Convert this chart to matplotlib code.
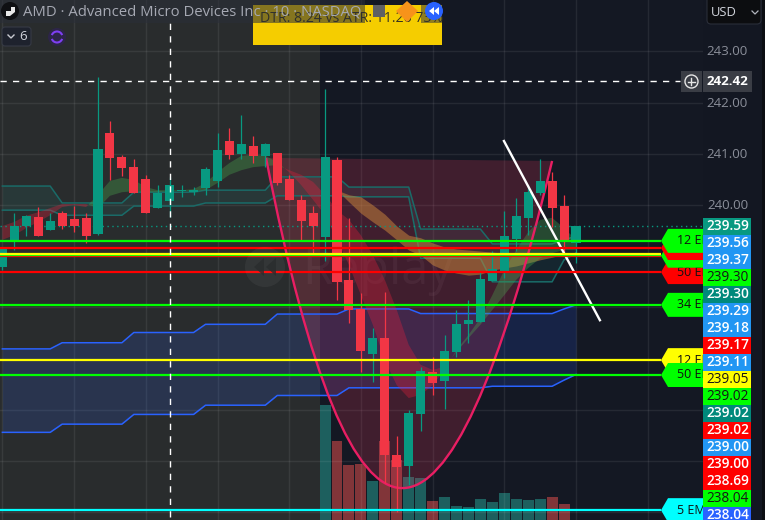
import matplotlib
matplotlib.use("Agg")
import matplotlib.pyplot as plt
from matplotlib.patches import Rectangle, PathPatch, Polygon, Circle, FancyBboxPatch, Arc
from matplotlib.path import Path

FONT = "Open Sans"
plt.rcParams["font.family"] = [FONT, "DejaVu Sans"]

opens = [238.79,239.28,239.59,239.77,239.51,239.84,239.73,239.75,239.43,241.41,240.94,240.74,240.51,239.94,240.08,240.27,240.25,240.33,240.47,
         241.25,241.00,241.15,240.96,241.02,240.51,240.10,239.84,239.38,240.88,238.54,237.97,237.09,237.40,235.12,234.90,235.92,236.74,236.56,
         237.13,237.68,237.71,238.52,238.71,239.34,239.75,240.23,240.47,239.98,239.26]
highs = [239.16,239.84,239.80,239.96,239.84,239.88,239.98,239.84,242.50,241.64,240.98,240.90,240.59,240.39,240.55,240.39,240.35,240.74,241.41,
         241.50,241.76,241.35,241.21,241.02,240.59,240.20,239.98,242.27,240.94,239.75,238.28,237.60,238.30,235.49,236.00,236.84,237.03,237.46,
         237.95,238.14,238.71,239.10,239.88,240.14,240.39,240.90,240.64,240.20,239.59]
lows = [238.73,239.12,239.39,239.39,239.51,239.53,239.47,239.26,239.41,240.49,240.57,240.23,239.84,239.94,239.77,240.16,240.20,240.20,240.35,
        240.90,240.90,240.82,240.74,240.39,240.10,239.30,239.06,238.91,238.14,237.70,236.74,236.54,234.57,234.00,234.53,235.59,236.29,236.02,
        237.03,237.30,237.71,238.52,238.57,239.10,239.41,240.20,239.57,239.02,238.87]
closes = [239.16,239.59,239.79,239.39,239.69,239.59,239.59,239.39,241.09,240.92,240.72,240.23,239.84,240.23,240.39,240.29,240.29,240.70,241.07,
          240.98,241.19,240.96,241.19,240.43,240.10,239.69,239.59,240.94,238.50,237.95,237.15,237.40,235.12,234.88,235.94,236.76,236.52,237.15,
          237.68,237.75,238.55,238.75,239.39,239.79,240.25,240.47,239.94,239.30,239.59]

vol_start = 27
volumes = [1150,790,550,560,390,790,600,430,420,190,230,140,130,210,180,270,210,200,210,230,160]

blue_upper = [237.19]*5+[237.31]*6+[237.51]*6+[237.67]*6+[237.87]*6+[237.97]*6+[237.88]*12+[237.97,238.05]
blue_lower = [235.56]*5+[235.72]*6+[235.91]*6+[236.09]*6+[236.28]*6+[236.43]*12+[236.46]*6+[236.58,236.69]
teal_upper = [240.37]*5+[240.04]*6+[240.25]*6+[240.29]*6+[240.55]*6+[240.35]*6+[239.53]*6+[239.24]*6+[239.32,239.39]
teal_lower = [239.90]*5+[239.80]*6+[239.98]*6+[240.04]*6+[240.18]*6+[240.16]*6+[238.96]*6+[238.50]*6+[238.93,239.06]

ema_fast = [239.32,239.41,239.55,239.67,239.80,239.96,240.00,239.96,240.20,240.47,240.53,240.49,240.35,240.29,240.29,240.29,240.31,240.43,240.64,
            240.82,240.96,240.98,240.96,240.84,240.64,240.39,240.10,239.80,239.32,238.83,238.24,237.66,236.97,236.48,236.23,236.29,236.48,236.78,
            237.17,237.46,237.79,238.24,238.73,239.12,239.47,239.71,239.75,239.55,239.32]
ema_slow = [239.59,239.67,239.79,239.86,239.94,240.02,240.02,240.02,239.94,240.18,240.25,240.27,240.25,240.25,240.27,240.27,240.27,240.29,240.43,
            240.59,240.68,240.74,240.76,240.78,240.68,240.59,240.45,240.20,239.90,239.71,239.41,239.02,238.54,237.95,237.27,236.88,236.78,236.84,
            237.13,237.40,237.66,237.95,238.24,238.54,238.77,238.96,239.06,239.12,239.12]
band_start = 28
band_upper = [240.29,240.20,240.16,240.00,239.82,239.59,239.41,239.36,239.26,239.18,239.14,239.12,239.10,239.08,239.06,239.04,239.04,239.02,239.02,239.04,239.06]
band_lower = [240.29,240.06,239.84,239.67,239.51,239.32,239.12,239.02,238.83,238.73,238.67,238.63,238.65,238.73,238.77,238.81,238.87,238.93,238.98,239.04,239.08]

level_prices = [238.69,239.00,239.02,239.04,239.16,239.30,238.05,236.97,236.68,234.04]
level_colors = ["#ff0000","#ff0000","#00ff00","#ffff00","#ff0000","#00ff00","#00ff00","#ffff00","#00ff00","#00ffff"]
tag_prices = [238.69,239.01,239.16,239.30,238.05,236.97,236.68,234.04]
tag_labels = ["50 EMA","9 EMA","","12 EMA","34 EMA","12 EMA","50 EMA","5 EMA"]
tag_colors = ["#ff0000","#00ff00","#ff0000","#00ff00","#00ff00","#ffff00","#00ff00","#00ffff"]

axis_ticks = [243.00,242.00,241.00,240.00]
scale_labels = ["239.59","239.56","239.37","239.30","239.30","239.29","239.18","239.17","239.11",
                "239.05","239.02","239.02","239.02","239.00","239.00","238.69","238.04","238.04"]
scale_colors = ["#089981","#2196f3","#2196f3","#00ff00","#00897b","#2196f3","#2196f3","#ff0000","#2196f3",
                "#ffff00","#00ff00","#00897b","#ff0000","#2196f3","#ff0000","#ff0000","#00ff00","#2962ff"]
scale_text = ["w","w","w","k","w","w","w","w","w","k","k","w","w","w","w","w","k","w"]

cross_price = 242.42
cross_bar = 14
last_price = 239.59
cup_x = [22.06,32.85,46.0]
cup_y = [240.92,228.05,240.86]
trend_x = [41.97,50.0]
trend_y = [241.25,237.75]

W, H = 765, 520
AX_W = 703
fig = plt.figure(figsize=(W/100, H/100), dpi=100, facecolor="#131722")
rect = [0, 0, AX_W/W, 1]
ax_vol = fig.add_axes(rect, zorder=0)
ax = fig.add_axes(rect, zorder=1)
top = fig.add_axes([0, 0, 1, 1], zorder=2)

XL = (-2.4/11.95, (AX_W-2.4)/11.95)
YL = (233.848, 244.004)
def px(x): return (x-2.4)/11.95
def py(y): return 240+(205-y)/51.2

ax_vol.set_xlim(XL); ax_vol.set_ylim(0, 5200); ax_vol.axis("off")
ax_vol.patch.set_visible(False)
ax_vol.add_patch(Rectangle((XL[0], 0), px(320)-XL[0], 5200, color="#292c2d", lw=0, zorder=0))
ax_vol.add_patch(Rectangle((px(320), 0), XL[1]-px(320), 5200, color="#141823", lw=0, zorder=0))
vx = list(range(vol_start, vol_start+len(volumes)))
vc = ["#26a69a" if closes[i] >= opens[i] else "#ef5350" for i in vx]
ax_vol.bar(vx, volumes, width=0.92, color=vc, alpha=0.5, lw=0, zorder=2)

ax.set_xlim(XL); ax.set_ylim(YL)
ax.patch.set_visible(False)
for s in ax.spines.values():
    s.set_visible(False)
ax.set_xticks(range(0, 60, 6)); ax.set_yticks(range(234, 244))
ax.tick_params(length=0, labelbottom=False, labelleft=False)
ax.grid(True, color="#ffffff", alpha=0.075, lw=1)
ax.set_axisbelow(True)

bars = list(range(len(opens)))
ax.fill_between(bars, blue_lower, blue_upper, color="#2962ff", alpha=0.16, lw=0, zorder=1)
ax.plot(bars, blue_upper, color="#2962ff", lw=1.1, zorder=2)
ax.plot(bars, blue_lower, color="#2962ff", lw=1.1, zorder=2)
ax.fill_between(bars, teal_lower, teal_upper, color="#26a69a", alpha=0.10, lw=0, zorder=1)
ax.plot(bars, teal_upper, color="#1a6b68", lw=1.1, zorder=2)
ax.plot(bars, teal_lower, color="#1a6b68", lw=1.1, zorder=2)

# cup drawing
verts = [(cup_x[0], cup_y[0]), (cup_x[1], cup_y[1]), (cup_x[2], cup_y[2])]
ax.add_patch(PathPatch(Path(verts+[verts[0]], [Path.MOVETO, Path.CURVE3, Path.CURVE3, Path.CLOSEPOLY]),
                       fc="#f23a5f", alpha=0.2, lw=0, zorder=1.5))
ax.add_patch(PathPatch(Path(verts, [Path.MOVETO, Path.CURVE3, Path.CURVE3]),
                       fc="none", ec="#e91e63", lw=1.7, zorder=3))

# EMA ribbons
bx = bars[band_start:]
ax.fill_between(bx, band_lower, band_upper, color="#d08a3c", alpha=0.5, lw=0, zorder=2)
ax.fill_between(bars, ema_fast, ema_slow, where=[f >= s for f, s in zip(ema_fast, ema_slow)],
                interpolate=True, color="#4caf50", alpha=0.33, lw=0, zorder=2.2)
ax.fill_between(bars, ema_fast, ema_slow, where=[f <= s for f, s in zip(ema_fast, ema_slow)],
                interpolate=True, color="#e91e3c", alpha=0.33, lw=0, zorder=2.2)

# watermark
ax.text(px(302), py(284), "Replay", color="#ffffff", alpha=0.05, fontsize=35, va="baseline", ha="left", zorder=1.2)
wm = top  # rewind watermark is drawn in pixel coordinates below

# levels
ax.axhline(last_price, color="#089981", lw=1, ls=(0, (1, 2.5)), zorder=3)
for p, c in zip(level_prices, level_colors):
    ax.plot([XL[0], px(661)], [p, p], color=c, lw=1.6, zorder=6, solid_capstyle="butt")

# trend line
ax.plot(trend_x, trend_y, color="#ffffff", lw=1.7, zorder=5)

# candles
for i, (o, h, l, c) in enumerate(zip(opens, highs, lows, closes)):
    col = "#089981" if c >= o else "#f23645"
    ax.vlines(i, l, h, color=col, lw=0.9, zorder=4)
    ax.bar(i, max(abs(c-o), 0.03), bottom=min(o, c), width=0.76, color=col, lw=0, zorder=4)

# level tags
dy = 12/51.2
for k, (p, lab, c) in enumerate(zip(tag_prices, tag_labels, tag_colors)):
    pts = [(px(661), p), (px(668), p+dy), (px(704), p+dy), (px(704), p-dy), (px(668), p-dy)]
    ax.add_patch(Polygon(pts, closed=True, fc=c, ec="none", zorder=7+k*0.01))
    if lab:
        ax.text(px(677), p, lab, color="#111111", fontsize=9, va="center", ha="left",
                zorder=7+k*0.01, clip_on=True)

# crosshair
ax.plot([XL[0], px(680)], [cross_price, cross_price], color="#ffffff", lw=1, ls=(0, (4.5, 4.5)), zorder=8)
ax.plot([cross_bar, cross_bar], [py(517), py(20)], color="#ffffff", lw=1, ls=(0, (4.5, 4.5)), zorder=8)

# chrome in pixel coordinates
top.set_xlim(0, W); top.set_ylim(H, 0); top.axis("off"); top.patch.set_visible(False)
top.add_patch(Circle((265, 267), 20, fc="#ffffff", alpha=0.05, lw=0, zorder=0.5))
top.add_patch(Polygon([(264, 258), (264, 276), (254, 267)], fc="#292c2d", alpha=0.8, lw=0, zorder=0.6))
top.add_patch(Polygon([(276, 258), (276, 276), (266, 267)], fc="#292c2d", alpha=0.8, lw=0, zorder=0.6))
top.add_patch(Rectangle((703, 0), 62, H, fc="#131722", lw=0, zorder=0))
top.add_patch(Rectangle((762, 0), 3, H, fc="#0c0e13", lw=0, zorder=0.1))
top.add_patch(Rectangle((253, 5), 189, 40, fc="#f5cd00", lw=0, zorder=1))
top.text(260, 18, "DTR: 8.24 vs ATR: 11.26 73%", color="#37331f", fontsize=10.2, va="center", ha="left", zorder=1.2)
top.add_patch(Rectangle((421, 5), 21, 18, fc="#2a2e39", alpha=0.5, lw=0, zorder=1.5))
top.add_patch(Rectangle((0, 0), 365, 23, fc="#2a2e39", alpha=0.55, lw=0, zorder=2))
top.add_patch(Rectangle((373, 5), 12, 12, fc="#5f6064", lw=0, zorder=2))
top.add_patch(Polygon([(407, 1), (418, 11), (407, 22), (396, 11)], fc="#f7931a", lw=0, zorder=3))
top.add_patch(Circle((434, 11), 9, fc="#2962ff", lw=0, zorder=3))
top.add_patch(Polygon([(434, 7), (434, 15), (429, 11)], fc="#ffffff", lw=0, zorder=4))
top.add_patch(Polygon([(439, 7), (439, 15), (434, 11)], fc="#ffffff", lw=0, zorder=4))
top.add_patch(Circle((10, 11), 9, fc="#0f1013", lw=0, zorder=3))
top.add_patch(Polygon([(6, 16), (6, 11), (11, 11), (11, 7), (15, 7), (15, 12), (10, 16)], fc="#e8e8e8", lw=0, zorder=4))
top.text(23, 11.5, "AMD · Advanced Micro Devices Inc · 10 · NASDAQ", color="#a6a9b3", fontsize=10.7, va="center", ha="left", zorder=3)

top.add_patch(FancyBboxPatch((2, 27), 29, 19, boxstyle="round,pad=0,rounding_size=3", fc="#1e222d", ec="#363a45", lw=0.8, zorder=3))
top.plot([8, 11, 14], [35, 38, 35], color="#c8cad0", lw=1, zorder=4)
top.text(23, 36.5, "6", color="#d1d4dc", fontsize=9.5, va="center", ha="center", zorder=4)
top.add_patch(Circle((57, 37), 9, fc="#2d2548", lw=0, zorder=3))
top.add_patch(Arc((57, 37), 11, 11, theta1=200, theta2=340, ec="#7e3ff2", lw=1.5, zorder=4))
top.add_patch(Arc((57, 37), 11, 11, theta1=20, theta2=160, ec="#7e3ff2", lw=1.5, zorder=4))

top.add_patch(FancyBboxPatch((707, -4), 54, 28, boxstyle="round,pad=0,rounding_size=4", fc="#0c0d10", ec="#2a2e39", lw=0.8, zorder=3))
top.text(711, 12, "USD", color="#d1d4dc", fontsize=9.4, va="center", ha="left", zorder=4)
top.plot([752, 755, 758], [11, 14, 11], color="#b2b5be", lw=0.9, zorder=4)

for p in axis_ticks:
    top.text(727.5, 205-(p-240)*51.2+0.5, f"{p:.2f}", color="#8a8e99", fontsize=9.6, va="center", ha="center", zorder=3)

# crosshair price
top.add_patch(Rectangle((681, 71), 21, 21, fc="#3a3d45", lw=0, zorder=3))
top.add_patch(Circle((691.5, 81.5), 6.5, fc="none", ec="#e6e6e6", lw=1, zorder=4))
top.plot([688, 695], [81.5, 81.5], color="#e6e6e6", lw=1, zorder=4)
top.plot([691.5, 691.5], [78, 85], color="#e6e6e6", lw=1, zorder=4)
top.add_patch(Rectangle((703, 71), 49, 21, fc="#3a3d45", lw=0, zorder=3))
top.text(727.5, 81.5, f"{cross_price:.2f}", color="#ffffff", fontsize=9.6, fontweight="bold", va="center", ha="center", zorder=4)

# stacked scale labels
for k, (lab, c, t) in enumerate(zip(scale_labels, scale_colors, scale_text)):
    y0 = 218+17*k
    top.add_patch(Rectangle((703, y0), 48.5, 17, fc=c, lw=0, zorder=3))
    top.text(727.5, y0+8.2, lab, color="#ffffff" if t == "w" else "#161616", fontsize=9.8,
             fontweight="semibold" if t == "w" else "normal", va="center", ha="center", zorder=4)

fig.savefig("out.png", dpi=100)
